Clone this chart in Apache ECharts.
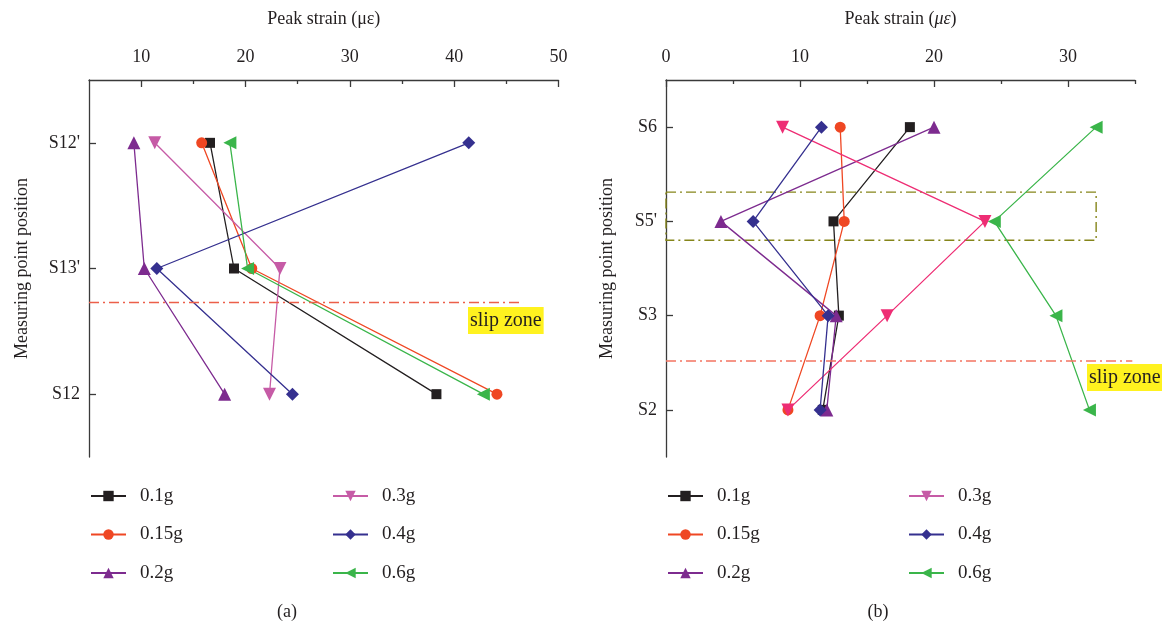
<!DOCTYPE html>
<html>
<head>
<meta charset="utf-8">
<script src="https://cdn.jsdelivr.net/npm/echarts@6/dist/echarts.min.js"></script>
<style>
html,body{margin:0;padding:0;background:#fff;}
#c{width:1162px;height:625px;}
</style>
</head>
<body>
<div id="c"></div>
<script>
// ---------- DATA ----------
const seriesNames = ["0.1g", "0.15g", "0.2g", "0.3g", "0.4g", "0.6g"];
const leftPositions = ["S12'", "S13'", "S12"];
const rightPositions = ["S6", "S5'", "S3", "S2"];
const left01 = [16.6, 18.9, 38.3];
const left015 = [15.8, 20.6, 44.1];
const left02 = [9.3, 10.3, 18.0];
const left03 = [11.3, 23.3, 22.3];
const left04 = [41.4, 11.5, 24.5];
const left06 = [18.5, 20.2, 42.8];
const right01 = [18.2, 12.5, 12.9, 11.7];
const right015 = [13.0, 13.3, 11.5, 9.1];
const right02 = [20.0, 4.1, 12.7, 12.0];
const right03 = [8.7, 23.8, 16.5, 9.1];
const right04 = [11.6, 6.5, 12.1, 11.5];
const right06 = [32.1, 24.5, 29.1, 31.6];
const leftMajorTicks = [10, 20, 30, 40, 50];
const leftMinorTicks = [15, 25, 35, 45];
const rightMajorTicks = [0, 10, 20, 30];
const rightMinorTicks = [5, 15, 25, 35];
const leftSlipZone = { y: 2.27, x0: 5, x1: 46.6 };
const rightSlipZone = { y: 3.48, x0: 0, x1: 34.8 };
const rightBox = { y0: 1.69, y1: 2.2, x0: 0, x1: 32.1 };

// ---------- STYLE ----------
const FONT = "'Liberation Serif', 'DejaVu Serif', serif";
const TXT = '#231f20';
const AX = '#3a3a3a';
const leftColors = ['#231f20', '#ef4723', '#7d2b8f', '#c65ba6', '#35308f', '#3ab54a'];
const rightColors = ['#231f20', '#ef4723', '#7d2b8f', '#ee2d74', '#35308f', '#3ab54a'];
const symbols = ['rect', 'circle', 'triangle', 'path://M0,0L10,0L5,9Z', 'diamond', 'path://M0,5L9,0L9,10Z'];
const symbolSizes = [10, 11, 13, 13, 13, 13];

const leftData = [left01, left015, left02, left03, left04, left06];
const rightData = [right01, right015, right02, right03, right04, right06];

function xAxisMain(gridIndex, min, max, majors, nameRich) {
  return {
    type: 'value', gridIndex, position: 'top', min, max,
    name: nameRich, nameLocation: 'middle', nameGap: 52,
    nameTextStyle: { fontFamily: FONT, fontSize: 18, color: TXT, rich: { i: { fontFamily: FONT, fontSize: 18, fontStyle: 'italic', color: TXT } } },
    axisLine: { show: true, onZero: false, lineStyle: { color: AX, width: 1.3 } },
    axisTick: { show: true, inside: true, length: 7, customValues: majors, lineStyle: { color: AX, width: 1.3 } },
    axisLabel: { show: true, margin: 14, customValues: majors, fontFamily: FONT, fontSize: 18, color: TXT },
    splitLine: { show: false }
  };
}
function xAxisMinor(gridIndex, min, max, minors) {
  return {
    type: 'value', gridIndex, position: 'top', min, max,
    axisLine: { show: false },
    axisTick: { show: true, inside: true, length: 4, customValues: minors, lineStyle: { color: AX, width: 1.3 } },
    axisLabel: { show: false },
    splitLine: { show: false }
  };
}
function yAxis(gridIndex, positions, gap) {
  const vals = positions.map((_, i) => i + 1);
  return {
    type: 'value', gridIndex, inverse: true, min: 0.5, max: positions.length + 0.5,
    name: 'Measuring point position', nameLocation: 'middle', nameGap: gap,
    nameTextStyle: { fontFamily: FONT, fontSize: 18, color: TXT },
    axisLine: { show: true, onZero: false, lineStyle: { color: AX, width: 1.3 } },
    axisTick: { show: true, inside: true, length: 7, customValues: vals, lineStyle: { color: AX, width: 1.3 } },
    axisLabel: { show: true, margin: 9, customValues: vals, fontFamily: FONT, fontSize: 18, color: TXT,
      formatter: v => positions[Math.round(v) - 1] || '' },
    splitLine: { show: false }
  };
}

const series = [];
seriesNames.forEach((name, k) => {
  series.push({
    name, type: 'line', xAxisIndex: 0, yAxisIndex: 0,
    data: leftData[k].map((v, i) => [v, i + 1]),
    symbol: symbols[k], symbolSize: symbolSizes[k], showAllSymbol: true,
    lineStyle: { color: leftColors[k], width: 1.3 },
    itemStyle: { color: leftColors[k] },
    animation: false, z: 3
  });
});
seriesNames.forEach((name, k) => {
  series.push({
    name, type: 'line', xAxisIndex: 2, yAxisIndex: 1,
    data: rightData[k].map((v, i) => [v, i + 1]),
    symbol: symbols[k], symbolSize: symbolSizes[k], showAllSymbol: true,
    lineStyle: { color: rightColors[k], width: 1.3 },
    itemStyle: { color: rightColors[k] },
    animation: false, z: 3
  });
});
// slip zone lines & box
series.push({
  type: 'line', xAxisIndex: 0, yAxisIndex: 0, data: [], silent: true,
  markLine: { symbol: 'none', silent: true, label: { show: false }, animation: false,
    lineStyle: { color: '#ec5f4a', width: 1.4, type: [10, 4, 2, 4] },
    data: [[{ coord: [leftSlipZone.x0, leftSlipZone.y] }, { coord: [leftSlipZone.x1, leftSlipZone.y] }]] }
});
series.push({
  type: 'line', xAxisIndex: 2, yAxisIndex: 1, data: [], silent: true,
  markLine: { symbol: 'none', silent: true, label: { show: false }, animation: false,
    lineStyle: { color: '#f47462', width: 1.6, type: [10, 4, 2, 4] },
    data: [[{ coord: [rightSlipZone.x0, rightSlipZone.y] }, { coord: [rightSlipZone.x1, rightSlipZone.y] }]] },
  markArea: { silent: true, label: { show: false }, animation: false,
    itemStyle: { color: 'rgba(0,0,0,0)', borderColor: '#85851a', borderWidth: 1.4, borderType: [10, 4, 2, 4] },
    data: [[{ coord: [rightBox.x0, rightBox.y0] }, { coord: [rightBox.x1, rightBox.y1] }]] }
});

function legend(left, names) {
  return {
    orient: 'vertical', left, top: 486, data: names, padding: 0,
    itemWidth: 35, itemHeight: 13, itemGap: 18.5,
    textStyle: { fontFamily: FONT, fontSize: 19, color: TXT, lineHeight: 20, padding: [0, 0, 0, 9] },
    selectedMode: false
  };
}

const option = {
  animation: false,
  backgroundColor: '#fff',
  grid: [
    { left: 89, right: 1162 - 558.5, top: 80, height: 377 },
    { left: 666, right: 1162 - 1135, top: 80, height: 377 }
  ],
  xAxis: [
    xAxisMain(0, 5, 50, leftMajorTicks, 'Peak strain (με)'),
    xAxisMinor(0, 5, 50, leftMinorTicks),
    xAxisMain(1, 0, 35, rightMajorTicks, 'Peak strain ({i|με})'),
    xAxisMinor(1, 0, 35, rightMinorTicks)
  ],
  yAxis: [yAxis(0, leftPositions, 58), yAxis(1, rightPositions, 50)],
  legend: [
    legend(90, seriesNames.slice(0, 3)),
    legend(332, seriesNames.slice(3)),
    legend(667, seriesNames.slice(0, 3)),
    legend(908, seriesNames.slice(3))
  ],
  graphic: [
    { type: 'text', left: 468, top: 307, z: 10,
      style: { text: 'slip zone', fontFamily: FONT, fontSize: 20, fill: TXT, backgroundColor: '#fff21f', padding: [4, 2, 3, 2] } },
    { type: 'text', left: 1087, top: 364, z: 10,
      style: { text: 'slip zone', fontFamily: FONT, fontSize: 20, fill: TXT, backgroundColor: '#fff21f', padding: [4, 2, 3, 2] } },
    { type: 'text', x: 287, y: 612, z: 10,
      style: { text: '(a)', fontFamily: FONT, fontSize: 18, fill: TXT, align: 'center', verticalAlign: 'middle' } },
    { type: 'text', x: 878, y: 612, z: 10,
      style: { text: '(b)', fontFamily: FONT, fontSize: 18, fill: TXT, align: 'center', verticalAlign: 'middle' } }
  ],
  series
};
const chart = echarts.init(document.getElementById('c'), null, { renderer: 'canvas' });
chart.setOption(option);
</script>
</body>
</html>
